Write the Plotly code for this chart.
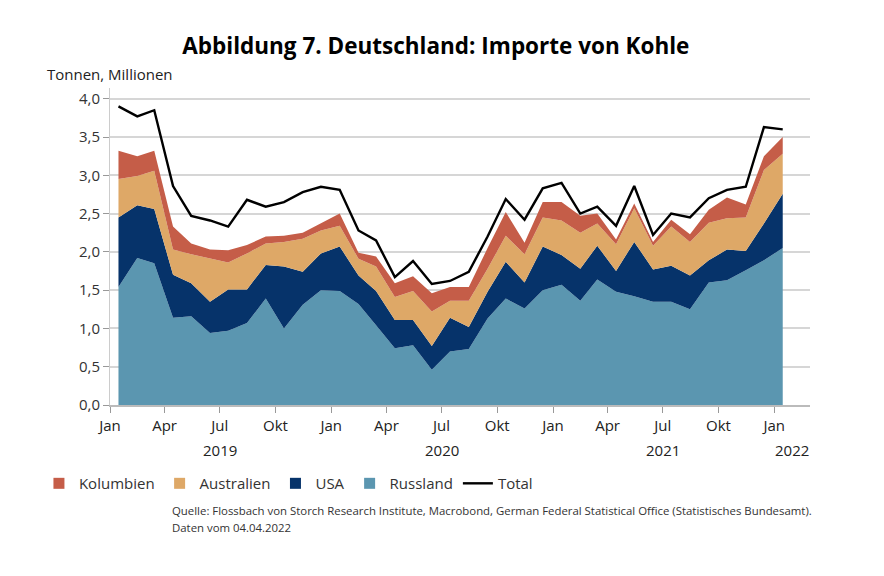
import pandas as pd
import plotly.graph_objects as go

# Monatswerte Jan 2019 - Jan 2022, Mio. Tonnen
monate = pd.date_range("2019-01-01", periods=37, freq="MS") + pd.Timedelta(days=14)

russland = [1.54, 1.92, 1.85, 1.14, 1.16, 0.94, 0.97, 1.07, 1.39, 1.00, 1.31, 1.50, 1.49,
            1.32, 1.04, 0.74, 0.78, 0.46, 0.70, 0.73, 1.13, 1.39, 1.26, 1.50, 1.57,
            1.36, 1.64, 1.48, 1.42, 1.35, 1.35, 1.25, 1.60, 1.63, 1.76, 1.89, 2.05]
usa = [0.91, 0.69, 0.71, 0.56, 0.43, 0.41, 0.54, 0.44, 0.44, 0.81, 0.43, 0.48, 0.58,
       0.37, 0.45, 0.37, 0.33, 0.31, 0.44, 0.29, 0.35, 0.48, 0.34, 0.57, 0.39,
       0.42, 0.44, 0.27, 0.71, 0.42, 0.47, 0.44, 0.29, 0.40, 0.25, 0.48, 0.71]
australien = [0.50, 0.38, 0.50, 0.33, 0.38, 0.56, 0.35, 0.47, 0.28, 0.32, 0.43, 0.30, 0.27,
              0.22, 0.32, 0.30, 0.38, 0.45, 0.22, 0.34, 0.30, 0.34, 0.37, 0.38, 0.45,
              0.47, 0.29, 0.35, 0.44, 0.31, 0.51, 0.44, 0.49, 0.41, 0.44, 0.70, 0.52]
kolumbien = [0.37, 0.26, 0.26, 0.30, 0.14, 0.12, 0.16, 0.11, 0.09, 0.08, 0.08, 0.09, 0.16,
             0.08, 0.13, 0.18, 0.19, 0.24, 0.18, 0.18, 0.27, 0.31, 0.15, 0.20, 0.24,
             0.22, 0.13, 0.06, 0.06, 0.05, 0.09, 0.10, 0.17, 0.27, 0.17, 0.18, 0.22]
total = [3.90, 3.77, 3.85, 2.86, 2.47, 2.41, 2.33, 2.68, 2.59, 2.65, 2.78, 2.85, 2.81,
         2.28, 2.15, 1.67, 1.88, 1.58, 1.62, 1.74, 2.20, 2.69, 2.42, 2.83, 2.90,
         2.50, 2.59, 2.34, 2.86, 2.22, 2.50, 2.45, 2.70, 2.81, 2.85, 3.63, 3.60]

tick_dates = pd.date_range("2019-01-01", "2022-01-01", freq="QS")
tick_names = ["Jan", "Apr", "Jul", "Okt"]
tick_labels = [tick_names[(d.month - 1) // 3] for d in tick_dates]
jahre = ["2019", "2020", "2021", "2022"]
jahr_pos = ["2019-07-01", "2020-07-01", "2021-07-01", "2022-01-01"]

FONT = "Open Sans"

fig = go.Figure()

# Stapel von unten nach oben
stack = [
    ("Russland", russland, "#5b96b0", 4),
    ("USA", usa, "#06336a", 3),
    ("Australien", australien, "#dea867", 2),
    ("Kolumbien", kolumbien, "#c55d48", 1),
]
for name, vals, col, rank in stack:
    fig.add_trace(go.Scatter(
        x=monate, y=vals, name=name, mode="lines",
        stackgroup="kohle", line=dict(width=0, color=col),
        fillcolor=col, showlegend=False, legendgroup=name,
    ))
    # kleines Quadrat als Legendensymbol
    fig.add_trace(go.Scatter(
        x=[None], y=[None], name=name, mode="markers",
        marker=dict(symbol="square", size=11, color=col),
        legendgroup=name, legendrank=rank,
    ))

fig.add_trace(go.Scatter(
    x=monate, y=total, name="Total", mode="lines",
    line=dict(color="black", width=2.4), legendrank=5,
))

# page body has an 8px margin, so the figure is shifted up/left by that
fig.update_layout(
    width=884, height=576,
    margin=dict(l=102, r=82, t=80, b=179, autoexpand=False),
    paper_bgcolor="white", plot_bgcolor="white",
    separators=",.",
    font=dict(family=FONT, size=15, color="#222"),
    title=dict(text="<b>Abbildung 7. Deutschland: Importe von Kohle</b>",
               x=0.484, xanchor="center", y=0.934, yanchor="middle",
               font=dict(size=22.5, color="black")),
    showlegend=True,
    legend=dict(orientation="h", xref="container", yref="container",
                x=0.035, xanchor="left", y=0.203, yanchor="top",
                traceorder="normal",
                font=dict(size=15, color="#333"), itemwidth=30,
                bgcolor="rgba(0,0,0,0)"),
)

fig.update_xaxes(
    type="date", range=["2019-01-01", "2022-03-01"],
    tickvals=tick_dates, ticktext=tick_labels,
    ticks="outside", ticklen=6, tickcolor="#999", tickwidth=1,
    showline=True, linecolor="#bbb", linewidth=1.5,
    showgrid=False, zeroline=False,
    tickfont=dict(size=15, color="#222"),
)
fig.update_yaxes(
    range=[0, 4.14], tickvals=[0, 0.5, 1, 1.5, 2, 2.5, 3, 3.5, 4],
    tickformat=".1f",
    ticks="outside", ticklen=6, tickcolor="#999",
    showline=True, linecolor="#ccc", linewidth=1,
    showgrid=True, gridcolor="#d6d6d6", gridwidth=1.5,
    zeroline=False,
    tickfont=dict(size=15, color="#333"),
)

for j, pos in zip(jahre, jahr_pos):
    # das letzte Jahr sitzt rechtsbündig am Achsenende
    shift = 18 if j == "2022" else 0
    fig.add_annotation(x=pos, y=-0.142, xref="x", yref="paper", text=j,
                       showarrow=False, yanchor="middle", xshift=shift,
                       font=dict(size=15, color="#222"))

fig.add_annotation(x=-0.093, y=1.044, xref="paper", yref="paper",
                   text="Tonnen, Millionen", showarrow=False,
                   xanchor="left", yanchor="middle",
                   font=dict(size=15, color="#222"))

fig.add_annotation(x=0.0857, y=-0.334, xref="paper", yref="paper",
                   text="Quelle: Flossbach von Storch Research Institute, Macrobond, "
                        "German Federal Statistical Office (Statistisches Bundesamt).",
                   showarrow=False, xanchor="left", yanchor="middle",
                   font=dict(size=11.4, color="#333"))
fig.add_annotation(x=0.0857, y=-0.388, xref="paper", yref="paper",
                   text="Daten vom 04.04.2022", showarrow=False,
                   xanchor="left", yanchor="middle",
                   font=dict(size=11.4, color="#333"))

fig.write_html("out.html")
